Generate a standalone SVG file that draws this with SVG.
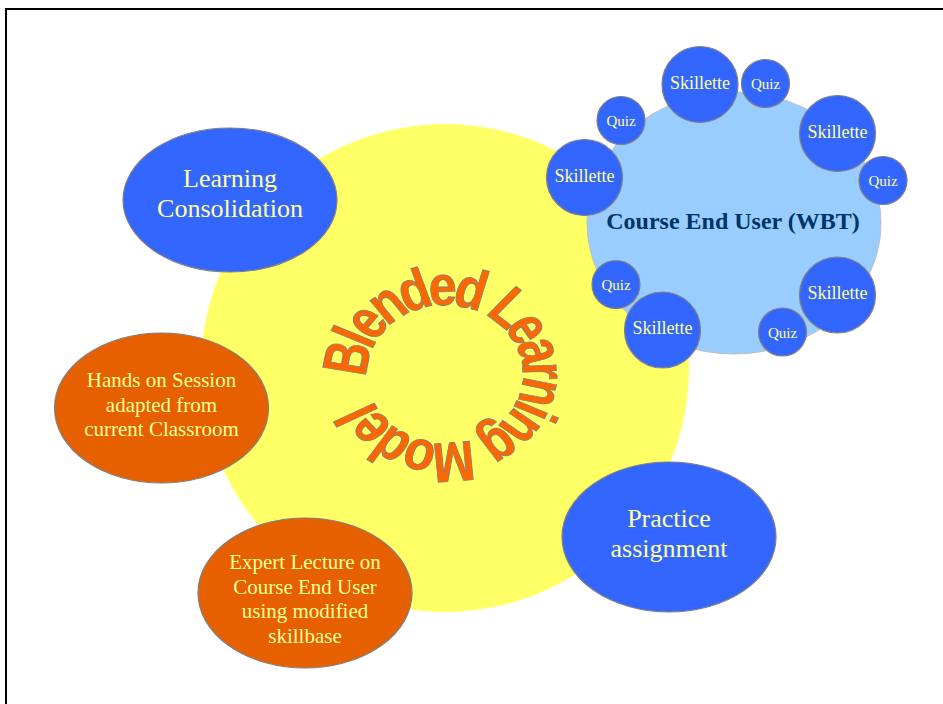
<svg xmlns="http://www.w3.org/2000/svg" xmlns:xlink="http://www.w3.org/1999/xlink" width="943" height="704" viewBox="0 0 943 704">
  <style>
    .blue { fill: #3366FF; stroke: #808080; stroke-width: 1.2; }
    .orange { fill: #E66000; stroke: #808080; stroke-width: 1.2; }
    .lbl { fill: #FFFF99; text-anchor: middle; }
    .big { font-size: 26px; }
    .mid { font-size: 21px; }
    .sk { font-size: 18px; }
    .qz { font-size: 15px; }
  </style>
  <defs>
    <path id="ringPath" d="M -88 0 A 88 88 0 1 1 88 0 A 88 88 0 1 1 -88 0" fill="none"/>
  </defs>

  <rect x="0" y="0" width="943" height="704" fill="#FFFFFF"/>
  <!-- slide frame -->
  <rect x="6" y="9" width="1000" height="1000" fill="none" stroke="#000000" stroke-width="2"/>

  <!-- central model disc with ring title -->
  <g id="model">
    <circle cx="445" cy="368" r="244" fill="#FFFF66"/>
    <g transform="translate(445,374) scale(1.13,1)">
      <text font-family="Liberation Sans, Arial, sans-serif" font-weight="bold" font-size="56" fill="#FF6600" stroke="#808080" stroke-width="0.9"><textPath xlink:href="#ringPath" href="#ringPath" textLength="516" lengthAdjust="spacingAndGlyphs"><tspan dy="19">Blended Learning Model</tspan></textPath></text>
    </g>
  </g>

  <g font-family="Liberation Serif, Times New Roman, serif">
  <g id="consolidation">
    <ellipse class="blue" cx="230" cy="200" rx="107" ry="72"/>
    <text class="lbl big" x="230" y="187">Learning</text>
    <text class="lbl big" x="230" y="217">Consolidation</text>
  </g>

  <g id="hands-on">
    <ellipse class="orange" cx="161.5" cy="408" rx="107" ry="75"/>
    <text class="lbl mid" x="161.5" y="387">Hands on Session</text>
    <text class="lbl mid" x="161.5" y="411.5">adapted from</text>
    <text class="lbl mid" x="161.5" y="436">current Classroom</text>
  </g>

  <g id="expert-lecture">
    <ellipse class="orange" cx="305" cy="593" rx="107" ry="75"/>
    <text class="lbl mid" x="305" y="569">Expert Lecture on</text>
    <text class="lbl mid" x="305" y="593.5">Course End User</text>
    <text class="lbl mid" x="305" y="618">using modified</text>
    <text class="lbl mid" x="305" y="642.5">skillbase</text>
  </g>

  <g id="practice">
    <ellipse class="blue" cx="669" cy="537" rx="107" ry="75"/>
    <text class="lbl big" x="669" y="527">Practice</text>
    <text class="lbl big" x="669" y="557">assignment</text>
  </g>

  <g id="course-end-user">
    <ellipse cx="734" cy="223" rx="147" ry="131" fill="#99CCFF" stroke="#C0C0C0" stroke-width="1"/>
    <text x="733" y="229" font-weight="bold" font-size="24" fill="#003366" text-anchor="middle">Course End User (WBT)</text>
  </g>

  <g id="skillette-1"><circle class="blue" cx="700" cy="84.5" r="38"/><text class="lbl sk" x="700" y="88.5">Skillette</text></g>
  <g id="quiz-1"><circle class="blue" cx="765.5" cy="83.5" r="24"/><text class="lbl qz" x="765.5" y="89">Quiz</text></g>
  <g id="quiz-2"><circle class="blue" cx="621" cy="120.5" r="24"/><text class="lbl qz" x="621" y="126">Quiz</text></g>
  <g id="skillette-2"><circle class="blue" cx="837.5" cy="133.5" r="38"/><text class="lbl sk" x="837.5" y="137.5">Skillette</text></g>
  <g id="quiz-3"><circle class="blue" cx="883" cy="180.5" r="24"/><text class="lbl qz" x="883" y="186">Quiz</text></g>
  <g id="skillette-3"><circle class="blue" cx="584.5" cy="177.5" r="38"/><text class="lbl sk" x="584.5" y="181.5">Skillette</text></g>
  <g id="quiz-4"><circle class="blue" cx="616" cy="284.5" r="24"/><text class="lbl qz" x="616" y="290">Quiz</text></g>
  <g id="skillette-4"><circle class="blue" cx="662.5" cy="330" r="38"/><text class="lbl sk" x="662.5" y="334">Skillette</text></g>
  <g id="skillette-5"><circle class="blue" cx="837.5" cy="295" r="38"/><text class="lbl sk" x="837.5" y="299">Skillette</text></g>
  <g id="quiz-5"><circle class="blue" cx="782.5" cy="332" r="24"/><text class="lbl qz" x="782.5" y="337.5">Quiz</text></g>
  </g>
</svg>
